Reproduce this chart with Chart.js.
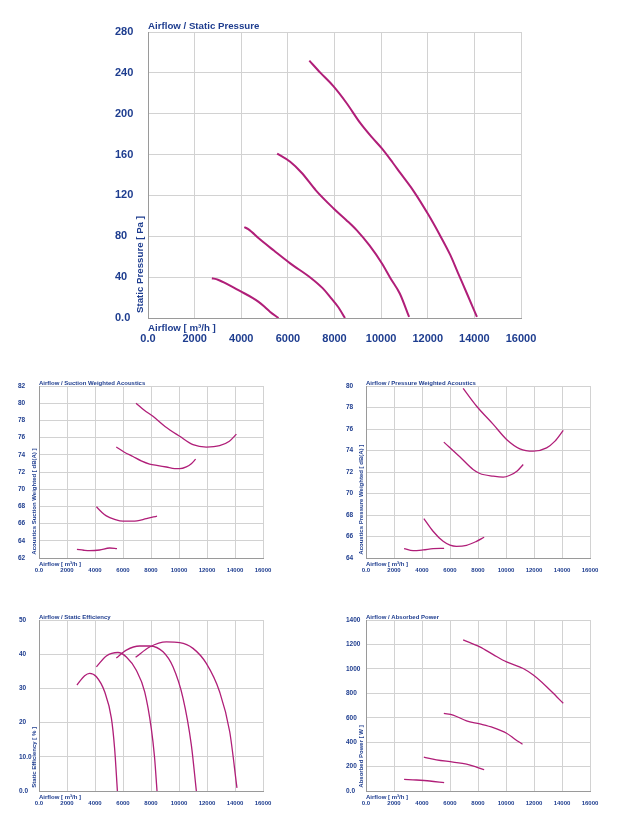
<!DOCTYPE html>
<html><head><meta charset="utf-8">
<script src="https://cdn.jsdelivr.net/npm/chart.js@4.4.1/dist/chart.umd.min.js"></script>
<style>
html,body{margin:0;padding:0;background:#fff;}
#wrap{position:relative;width:619px;height:819px;overflow:hidden;background:#fff;}
canvas{position:absolute;}
</style></head><body>
<div id="wrap">
<canvas id="c0" width="619" height="360" style="left:0;top:0"></canvas>
<canvas id="c1" width="300" height="220" style="left:0;top:370px"></canvas>
<canvas id="c2" width="299" height="220" style="left:320px;top:370px"></canvas>
<canvas id="c3" width="300" height="214" style="left:0;top:605px"></canvas>
<canvas id="c4" width="299" height="214" style="left:320px;top:605px"></canvas>
</div>
<script>
// ---- data ----
const xTicks = [0,2000,4000,6000,8000,10000,12000,14000,16000];
const xTickLabels = ['0.0','2000','4000','6000','8000','10000','12000','14000','16000'];

const pressureTicks = [0,40,80,120,160,200,240,280];
const pressureTickLabels = ['0.0','40','80','120','160','200','240','280'];
const staticPressure = [
  [[2740,39],[3000,37.5],[3500,32],[3940,26.5],[4500,19.5],[4730,16],[5000,11],[5230,6.2],[5600,0]],
  [[4130,89],[4300,87],[4800,77],[5400,66],[6100,53.5],[7000,39],[7500,29],[7800,21],[8150,11],[8450,0]],
  [[5540,161],[6100,153],[6600,142],[7200,125],[7950,107.5],[8500,96],[8950,86],[9500,71],[10030,53.6],[10400,39],[10800,24],[11200,1]],
  [[6920,252],[7400,240],[7950,227],[8500,211],[9100,191],[9600,177],[10030,166],[10500,152],[10820,142],[11400,124],[12030,101],[12500,82],[12960,62],[13300,44],[13680,24],[14110,1]]
];

const suctionTicks = [62,64,66,68,70,72,74,76,78,80,82];
const suctionTickLabels = ['62','64','66','68','70','72','74','76','78','80','82'];
const suctionAcoustics = [
  [[2710,63.0],[3200,62.9],[3620,62.85],[4330,62.93],[5050,63.16],[5570,63.09]],
  [[4100,67.95],[4500,67.3],[4810,66.9],[5400,66.5],[6000,66.28],[6700,66.28],[7670,66.57],[8430,66.88]],
  [[5520,74.9],[6100,74.3],[6710,73.8],[7300,73.3],[7900,72.93],[8500,72.75],[9100,72.58],[9700,72.4],[10050,72.39],[10520,72.6],[10900,73.0],[11190,73.5]],
  [[6930,80],[7500,79.2],[8140,78.47],[9000,77.3],[10050,76.15],[11000,75.18],[11950,74.9],[12900,75.06],[13600,75.57],[14100,76.4]]
];

const pressAcTicks = [64,66,68,70,72,74,76,78,80];
const pressAcTickLabels = ['64','66','68','70','72','74','76','78','80'];
const pressureAcoustics = [
  [[2720,64.87],[3360,64.68],[4080,64.75],[4790,64.87],[5580,64.9]],
  [[4130,67.67],[4790,66.49],[5510,65.55],[6000,65.2],[6460,65.09],[7180,65.18],[7890,65.55],[8440,65.93]],
  [[5560,74.78],[6700,73.41],[7650,72.23],[8130,71.86],[9090,71.61],[9800,71.52],[10280,71.7],[10800,72.1],[11230,72.7]],
  [[6940,79.78],[7890,78.14],[9090,76.43],[10040,75.03],[10990,74.16],[11950,73.94],[12900,74.25],[13500,74.87],[14090,75.87]]
];

const effTicks = [0,10,20,30,40,50];
const effTickLabels = ['0.0','10.0','20','30','40','50'];
const staticEfficiency = [
  [[2710,31.0],[3260,33.7],[3620,34.4],[4100,33.4],[4690,29.0],[5170,21.3],[5400,12.5],[5600,0]],
  [[4100,36.3],[4810,39.5],[5640,40.5],[6240,39.2],[6950,35.3],[7550,29.0],[8020,18.3],[8250,10],[8430,0]],
  [[5520,38.9],[6240,41.2],[7190,42.4],[7900,42.4],[8860,40.7],[9570,36.3],[10290,27.1],[10880,13.5],[11240,0]],
  [[6900,39.1],[7900,42.1],[9100,43.6],[10050,43.4],[11000,41.7],[11950,37.3],[12900,29.0],[13620,17.4],[14140,0.9]]
];

const powerTicks = [0,200,400,600,800,1000,1200,1400];
const powerTickLabels = ['0.0','200','400','600','800','1000','1200','1400'];
const absorbedPower = [
  [[2720,95],[3600,90],[4550,82],[5580,68]],
  [[4130,277],[5030,255],[6220,237],[7180,220],[7890,196],[8440,174]],
  [[5560,636],[6220,622],[7180,574],[8130,549],[9090,519],[10040,473],[10640,424],[11180,383]],
  [[6940,1237],[8130,1180],[9090,1117],[10040,1057],[11230,1003],[11950,949],[12900,854],[13620,772],[14090,718]]
];

// ---- styles ----
const TXT = '#1e3d8f';
const CURVE = '#b01e78';
const GRID = '#d2d2d2';
const AXIS = '#9a9a9a';
const FONT = '"Liberation Sans", Arial, Helvetica, sans-serif';

function textPlugin(s){
  return {id:'txt', afterDraw(chart){
    const ctx = chart.ctx, a = chart.chartArea;
    ctx.save();
    ctx.fillStyle = TXT; ctx.textAlign = 'left'; ctx.textBaseline = 'alphabetic';
    ctx.font = 'bold ' + s.tFs + 'px ' + FONT;
    ctx.fillText(s.title, a.left, a.top - s.tDy);
    ctx.fillText('Airflow [ m³/h ]', a.left, a.bottom + s.xtDy);
    ctx.translate(a.left - s.ytDx, a.bottom - s.ytDy);
    ctx.rotate(-Math.PI/2);
    ctx.fillText(s.yTitle, 0, 0);
    ctx.restore();
  }};
}

function build(id, s){
  const L = s.box;
  new Chart(document.getElementById(id), {
    type: 'line',
    data: { datasets: s.curves.map(c => ({
      data: c.map(p => ({x:p[0], y:p[1]})),
      borderColor: CURVE, borderWidth: s.lw, pointRadius: 0,
      cubicInterpolationMode: 'monotone', fill: false
    }))},
    options: {
      responsive: false, animation: false, devicePixelRatio: 1,
      layout: { padding: { left: L.labelLeft, top: L.top, right: L.w - L.right, bottom: L.h - L.bottom - L.xH } },
      plugins: { legend: {display:false}, tooltip: {enabled:false}, title: {display:false} },
      scales: {
        x: {
          type: 'linear', min: 0, max: 16000,
          afterFit: sc => { sc.height = L.xH; },
          afterBuildTicks: sc => { sc.ticks = xTicks.map(v => ({value:v})); },
          ticks: { autoSkip:false, maxRotation:0, minRotation:0, padding:s.xPad, color:TXT,
                   font:{family:FONT, weight:'bold', size:s.xFs},
                   callback:(v,i) => xTickLabels[i] },
          grid: { color: GRID, drawTicks:false, lineWidth:1 },
          border: { color: AXIS, width:1 }
        },
        y: {
          type: 'linear', min: s.yTicks[0], max: s.yTicks[s.yTicks.length-1],
          afterFit: sc => { sc.width = L.left - L.labelLeft; },
          afterBuildTicks: sc => { sc.ticks = s.yTicks.map(v => ({value:v})); },
          ticks: { autoSkip:false, crossAlign:'far', padding:4, color:TXT,
                   font:{family:FONT, weight:'bold', size:s.yFs},
                   callback:(v,i) => s.yLabels[i] },
          grid: { color: GRID, drawTicks:false, lineWidth:1 },
          border: { color: AXIS, width:1 }
        }
      }
    },
    plugins: [textPlugin(s)]
  });
}

const mainText = {tFs:9.7, tDy:3, xtDy:12.5, ytDx:5.5, ytDy:5};
const smallText = {tFs:6, tDy:1.5, xtDy:7.5, ytDx:2.7, ytDy:3.3};

build('c0', Object.assign({
  box:{labelLeft:115, left:148, top:32, right:521, bottom:318, w:619, h:360, xH:30},
  curves: staticPressure, yTicks: pressureTicks, yLabels: pressureTickLabels,
  title:'Airflow / Static Pressure', yTitle:'Static Pressure [ Pa ]',
  lw:2, xFs:11, yFs:11, xPad:14
}, mainText));

build('c1', Object.assign({
  box:{labelLeft:18, left:39, top:16, right:263, bottom:188, w:300, h:220, xH:20},
  curves: suctionAcoustics, yTicks: suctionTicks, yLabels: suctionTickLabels,
  title:'Airflow / Suction Weighted Acoustics', yTitle:'Acoustics Suction Weighted [ dB(A) ]',
  lw:1.3, xFs:6, yFs:6.5, xPad:9
}, smallText));

build('c2', Object.assign({
  box:{labelLeft:26, left:46, top:16, right:270, bottom:188, w:299, h:220, xH:20},
  curves: pressureAcoustics, yTicks: pressAcTicks, yLabels: pressAcTickLabels,
  title:'Airflow / Pressure Weighted Acoustics', yTitle:'Acoustics Pressure Weighted [ dB(A) ]',
  lw:1.3, xFs:6, yFs:6.5, xPad:9
}, smallText));

build('c3', Object.assign({
  box:{labelLeft:19, left:39, top:15, right:263, bottom:186, w:300, h:214, xH:20},
  curves: staticEfficiency, yTicks: effTicks, yLabels: effTickLabels,
  title:'Airflow / Static Efficiency', yTitle:'Static Efficiency [ % ]',
  lw:1.3, xFs:6, yFs:6.5, xPad:9
}, smallText));

build('c4', Object.assign({
  box:{labelLeft:26, left:46, top:15, right:270, bottom:186, w:299, h:214, xH:20},
  curves: absorbedPower, yTicks: powerTicks, yLabels: powerTickLabels,
  title:'Airflow / Absorbed Power', yTitle:'Absorbed Power [ W ]',
  lw:1.3, xFs:6, yFs:6.5, xPad:9
}, smallText));
</script>
</body></html>
